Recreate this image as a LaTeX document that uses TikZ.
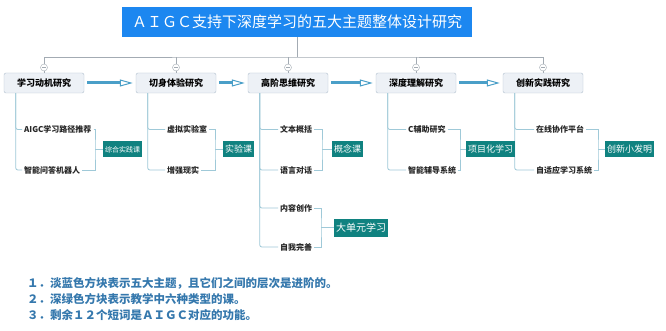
\documentclass[tikz,border=0pt]{standalone}
\usepackage{fontspec}
\newfontfamily\cjk{Noto Sans CJK SC}
\usetikzlibrary{arrows.meta}
\definecolor{titleblue}{HTML}{1C87F0}
\definecolor{topicfill}{HTML}{EDF1F6}
\definecolor{topicline}{HTML}{B3C1CF}
\definecolor{lessongreen}{HTML}{108280}
\definecolor{branchline}{HTML}{9FC9D8}
\definecolor{skeleton}{HTML}{A3ABB3}
\definecolor{arrowblue}{HTML}{4A9FC8}
\definecolor{notecolor}{HTML}{3578AD}
\tikzset{
  titlebox/.style={fill=titleblue, text=white, minimum width=350pt, minimum height=30pt, inner sep=0pt, font=\cjk\fontsize{15}{16}\selectfont},
  topic/.style={draw=topicline, fill=topicfill, rounded corners=2pt, minimum width=80pt, minimum height=20pt, inner sep=0pt, font=\cjk\bfseries\fontsize{9}{10}\selectfont},
  fold/.style={circle, draw=skeleton, fill=white, minimum size=7pt, inner sep=0pt,
    path picture={\draw[skeleton] ([xshift=-2pt]path picture bounding box.center) -- ([xshift=2pt]path picture bounding box.center);}},
  leaf/.style={anchor=west, inner sep=1pt, text=black!85, font=\cjk\bfseries\fontsize{8}{9}\selectfont},
  lesson/.style={anchor=west, fill=lessongreen, text=white, inner xsep=2pt, minimum height=16pt, font=\cjk\fontsize{9}{10}\selectfont},
  note/.style={anchor=west, inner sep=0pt, text=notecolor, font=\cjk\bfseries\fontsize{11.5}{12}\selectfont},
  tree/.style={skeleton, line width=0.7pt},
  branch/.style={branchline, line width=0.8pt, rounded corners=2pt},
  flow/.style={arrowblue, line width=3pt, -{Triangle[open, length=13pt, width=7pt, line width=1pt, fill=white]}}
}
\begin{document}
\begin{tikzpicture}[x=1pt,y=-1pt]
\fill[white] (0,0) rectangle (666,331);
\useasboundingbox (0,0) rectangle (666,331);
% title and the five topics
\node[titlebox] (title) at (297,22) {ＡＩＧＣ支持下深度学习的五大主题整体设计研究};
\foreach \i/\cx/\txt in {1/44/学习动机研究, 2/176/切身体验研究, 3/288/高阶思维研究, 4/416/深度理解研究, 5/543/创新实践研究}{
  \node[topic] (m\i) at (\cx,83) {\txt};
  \node[fold] (f\i) at (\cx,67.5) {};
  \draw[tree] (f\i.south) -- (m\i.north);
}
\coordinate (hub) at (297,57);
\draw[tree] (title.south) -- (hub);
\draw[tree] (f1.north) |- (hub) -| (f5.north);
\foreach \i in {2,3,4}	\draw[tree] (f\i.north) -- (f\i.north |- hub);
\foreach \a/\b in {1/2,2/3,3/4,4/5}	\draw[flow] ([xshift=3pt]m\a.east) -- ([xshift=-3pt]m\b.west);
% leaves under each topic
\def\ya{129.5};
\def\yb{170};
\node[leaf] (c11) at (23,\ya) {AIGC学习路径推荐};
\node[leaf] (c12) at (23,\yb) {智能问答机器人};
\node[leaf] (c21) at (166,\ya) {虚拟实验室};
\node[leaf] (c22) at (166,\yb) {增强现实};
\node[leaf] (c31) at (279,\ya) {文本概括};
\node[leaf] (c32) at (279,\yb) {语言对话};
\node[leaf] (c33) at (279,208) {内容创作};
\node[leaf] (c34) at (279,247) {自我完善};
\node[leaf] (c41) at (407,\ya) {C辅助研究};
\node[leaf] (c42) at (407,\yb) {智能辅导系统};
\node[leaf] (c51) at (535,\ya) {在线协作平台};
\node[leaf] (c52) at (535,\yb) {自适应学习系统};
\foreach \m/\c in {1/c11,1/c12,2/c21,2/c22,3/c31,3/c32,3/c33,3/c34,4/c41,4/c42,5/c51,5/c52}
  \draw[branch] ([xshift=12pt]m\m.south west) |- ([xshift=-1pt]\c.west);
% lesson boxes
\node[lesson, font=\cjk\fontsize{7}{8}\selectfont] (g1) at (103,149.5) {综合实践课};
\node[lesson] (g2) at (223,149.5) {实验课};
\node[lesson] (g3) at (332,149.5) {概念课};
\node[lesson, minimum height=18pt, font=\cjk\fontsize{10}{11}\selectfont] (g4) at (334,227.5) {大单元学习};
\node[lesson] (g5) at (466,149.5) {项目化学习};
\node[lesson] (g6) at (605,149.5) {创新小发明};
\coordinate (j1) at (95,149.5);
\coordinate (j2) at (215,149.5);
\coordinate (j3) at (322,149.5);
\coordinate (j4) at (321,227.5);
\coordinate (j5) at (460,149.5);
\coordinate (j6) at (598,149.5);
\foreach \j/\a/\b in {1/c11/c12,2/c21/c22,3/c31/c32,4/c33/c34,5/c41/c42,6/c51/c52}{
  \draw[branch, rounded corners=0pt] ([xshift=1pt]\a.east) -| (j\j) |- ([xshift=1pt]\b.east);
  \draw[branch] (j\j) -- (g\j.west);
}
% notes
\node[note] (n1) at (27,283) {１．淡蓝色方块表示五大主题，且它们之间的层次是进阶的。};
\node[note] (n2) at (27,299.5) {２．深绿色方块表示教学中六种类型的课。};
\node[note] (n3) at (27,315.5) {３．剩余１２个短词是ＡＩＧＣ对应的功能。};
\end{tikzpicture}
\end{document}
